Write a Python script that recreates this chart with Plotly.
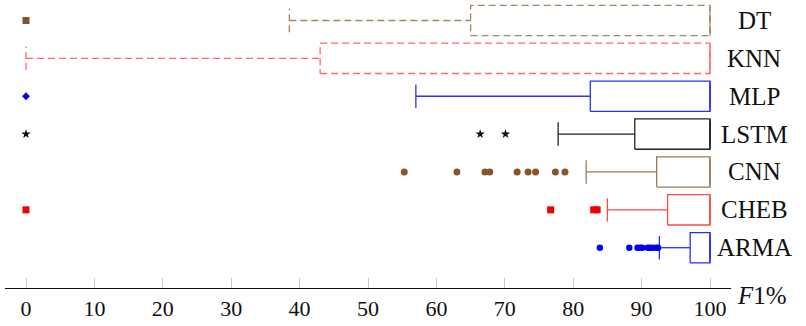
import plotly.graph_objects as go

# ---------------- data ----------------
models = ["DT", "KNN", "MLP", "LSTM", "CNN", "CHEB", "ARMA"]
q1 = [65.0, 43.0, 82.5, 89.0, 92.2, 93.8, 97.1]
median = [100.0, 100.0, 100.0, 100.0, 100.0, 100.0, 100.0]
q3 = [100.0, 100.0, 100.0, 100.0, 100.0, 100.0, 100.0]
lower_whisker = [38.5, 0.0, 57.0, 77.8, 81.9, 85.0, 92.6]
upper_whisker = [100.0, 100.0, 100.0, 100.0, 100.0, 100.0, 100.0]

outliers_DT = [0.0]
outliers_KNN = []
outliers_MLP = [0.0]
outliers_LSTM = [0.0, 66.4, 70.1]
outliers_CNN = [55.3, 63.0, 67.1, 67.8, 71.8, 73.4, 74.5, 77.4, 78.8]
outliers_CHEB = [0.0, 76.7, 83.0, 83.5]
outliers_ARMA = [83.9, 88.2, 89.4, 89.8, 90.1, 90.9, 91.2, 91.6, 92.1, 92.4]
outliers = [outliers_DT, outliers_KNN, outliers_MLP, outliers_LSTM,
            outliers_CNN, outliers_CHEB, outliers_ARMA]

x_ticks = [0, 10, 20, 30, 40, 50, 60, 70, 80, 90, 100]

# ---------------- styles ----------------
box_colors = ["#a5855f", "#ff6666", "#2f2fff", "#222222", "#9c7b5a", "#ff4a4a", "#2a2aff"]
box_dash = ["7px,4px", "7px,4px", "solid", "solid", "solid", "solid", "solid"]
marker_colors = ["#85562c", "#ff3333", "#0000ee", "#111111", "#86552a", "#ee0000", "#0000ee"]
marker_symbols = ["square", "circle", "diamond", "star", "circle", "square", "circle"]
marker_sizes = [7, 6, 6, 7, 7, 7, 6.5]

n = len(models)
pos = [n - 1 - i for i in range(n)]  # DT at top
half_box = 0.40
half_cap = 0.31

fig = go.Figure()
for i, m in enumerate(models):
    p = pos[i]
    xs = [q1[i], q3[i], q3[i], q1[i], q1[i], None,
          median[i], median[i], None,
          lower_whisker[i], q1[i], None,
          lower_whisker[i], lower_whisker[i], None,
          q3[i], upper_whisker[i], None,
          upper_whisker[i], upper_whisker[i]]
    ys = [p - half_box, p - half_box, p + half_box, p + half_box, p - half_box, None,
          p - half_box, p + half_box, None,
          p, p, None,
          p - half_cap, p + half_cap, None,
          p, p, None,
          p - half_cap, p + half_cap]
    fig.add_trace(go.Scatter(
        x=xs, y=ys, mode="lines",
        line=dict(color=box_colors[i], width=1.3, dash=box_dash[i]),
        hoverinfo="skip", showlegend=False))
    if outliers[i]:
        fig.add_trace(go.Scatter(
            x=outliers[i], y=[p] * len(outliers[i]), mode="markers",
            marker=dict(symbol=marker_symbols[i], color=marker_colors[i],
                        size=marker_sizes[i], line=dict(width=0)),
            showlegend=False, name=m))

# category labels on the right
for i, m in enumerate(models):
    fig.add_annotation(
        x=1.0317, xref="paper", y=pos[i], yref="y", text=m,
        showarrow=False, xanchor="center", yanchor="middle",
        font=dict(family="Liberation Serif, serif", size=25, color="#111111"))

fig.add_annotation(
    x=1.0055, xref="paper", y=-0.025, yref="paper", text="<i>F</i>1%",
    showarrow=False, xanchor="left", yanchor="middle",
    font=dict(family="Liberation Serif, serif", size=25, color="#111111"))

fig.update_layout(
    width=806, height=326,
    margin=dict(l=5, r=75, t=0, b=38),
    plot_bgcolor="white", paper_bgcolor="white",
    font=dict(family="Liberation Serif, serif", size=22, color="#111111"),
    xaxis=dict(range=[-3.07, 103.07], tickvals=x_ticks,
               ticktext=[str(v) for v in x_ticks],
               showline=True, linecolor="#111111", linewidth=1.4,
               ticks="inside", ticklen=10, tickcolor="#c8c8c8", tickwidth=1,
               showgrid=False, zeroline=False,
               tickfont=dict(family="Liberation Serif, serif", size=22, color="#111111")),
    yaxis=dict(range=[-1.064, 6.541], showticklabels=False, showgrid=False,
               zeroline=False, showline=False, ticks=""),
)

fig.write_html("out.html",
               config={"displayModeBar": False},
               post_script="document.body.style.margin='0px';document.body.style.padding='0px';")
